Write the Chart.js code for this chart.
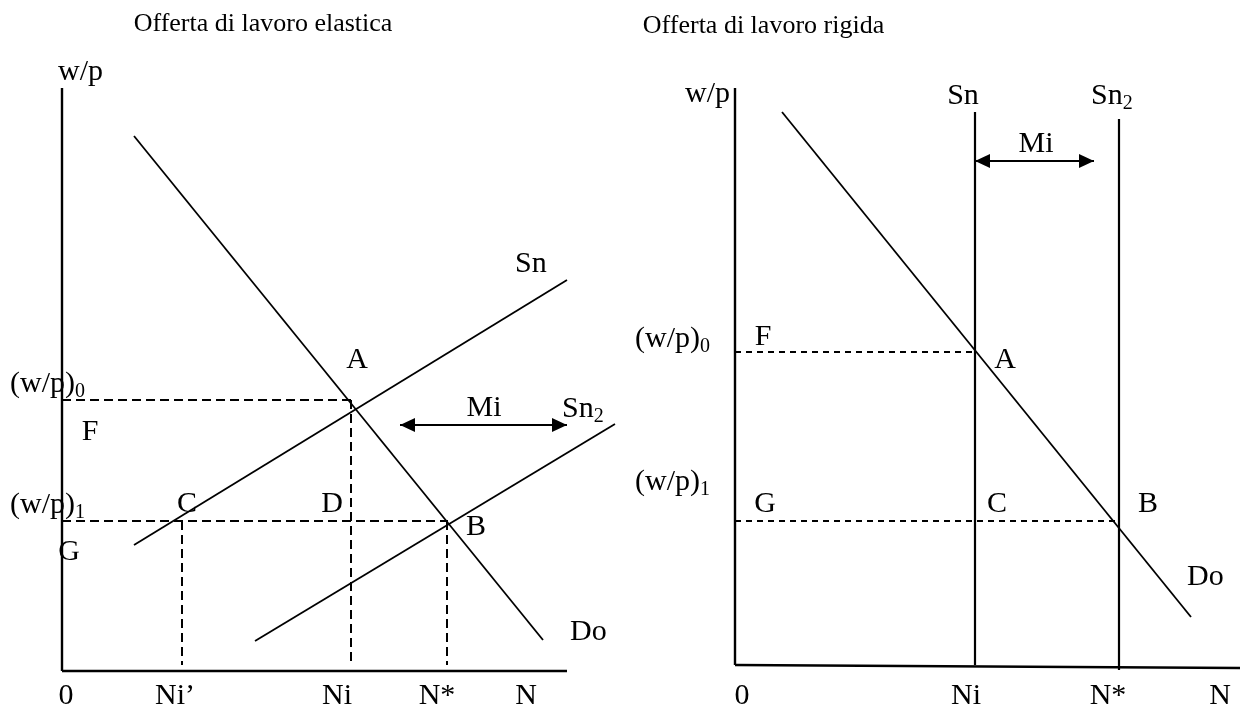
<!DOCTYPE html>
<html lang="it">
  <head>
    <meta charset="UTF-8" />
    <title>Offerta di lavoro elastica / rigida</title>
    <script src="https://cdn.jsdelivr.net/npm/chart.js"></script>
    <style>
      html, body { margin: 0; padding: 0; background: #fff; }
      canvas { display: block; }
    </style>
  </head>
  <body>
    <canvas id="chart" width="1248" height="708"></canvas>
    <script>
      // ---- left panel: elastic labour supply (x = N, y = w/p) ----
      const leftAxisY = [[0, 0], [0, 11.66]];
      const leftAxisX = [[0, 0], [10.1, 0]];
      const leftDo = [[1.44, 10.7], [9.62, 0.62]];
      const leftSn = [[1.44, 2.52], [10.1, 7.82]];
      const leftSn2 = [[3.86, 0.6], [11.06, 4.94]];
      const leftW0 = [[0, 5.42], [5.78, 5.42]];
      const leftNi = [[5.78, 5.42], [5.78, 0.2]];
      const leftW1 = [[0, 3.0], [7.72, 3.0]];
      const leftNiPrime = [[2.4, 3.0], [2.4, 0.12]];
      const leftNstar = [[7.7, 3.0], [7.7, 0.12]];
      const leftMi = [[6.76, 4.92], [10.1, 4.92]];

      // [text, x, y, align]  ("_" starts a subscript)
      const leftLabels = [
        ["w/p", -0.08, 11.82, "left"],
        ["(w/p)_0", -1.04, 5.58, "left"],
        ["F", 0.56, 4.62, "center"],
        ["A", 5.9, 6.06, "center"],
        ["(w/p)_1", -1.04, 3.16, "left"],
        ["C", 2.5, 3.18, "center"],
        ["D", 5.4, 3.18, "center"],
        ["G", 0.14, 2.22, "center"],
        ["B", 8.28, 2.72, "center"],
        ["Mi", 8.44, 5.1, "center"],
        ["Sn_2", 10.0, 5.08, "left"],
        ["Sn", 9.06, 7.98, "left"],
        ["Do", 10.16, 0.62, "left"],
        ["0", 0.08, -0.66, "center"],
        ["Ni’", 2.26, -0.66, "center"],
        ["Ni", 5.5, -0.66, "center"],
        ["N*", 7.5, -0.66, "center"],
        ["N", 9.28, -0.66, "center"],
      ];
      const leftTitle = ["Offerta di lavoro elastica", 4.02, 12.8];

      // ---- right panel: rigid labour supply ----
      const rightAxisY = [[0, 0], [0, 11.54]];
      const rightAxisX = [[0, 0], [10.1, -0.06]];
      const rightDo = [[0.94, 11.06], [9.12, 0.96]];
      const rightSn = [[4.8, 11.06], [4.8, 0]];
      const rightSn2 = [[7.68, 10.92], [7.68, -0.1]];
      const rightW0 = [[0, 6.26], [4.8, 6.26]];
      const rightW1 = [[0, 2.88], [7.68, 2.88]];
      const rightMi = [[4.8, 10.08], [7.18, 10.08]];

      const rightLabels = [
        ["w/p", -0.1, 11.26, "right"],
        ["(w/p)_0", -2.0, 6.36, "left"],
        ["F", 0.56, 6.4, "center"],
        ["A", 5.4, 5.94, "center"],
        ["(w/p)_1", -2.0, 3.5, "left"],
        ["G", 0.6, 3.06, "center"],
        ["C", 5.24, 3.06, "center"],
        ["B", 8.26, 3.06, "center"],
        ["Do", 9.04, 1.6, "left"],
        ["Sn", 4.56, 11.22, "center"],
        ["Sn_2", 7.12, 11.22, "left"],
        ["Mi", 6.02, 10.26, "center"],
        ["0", 0.14, -0.78, "center"],
        ["Ni", 4.62, -0.78, "center"],
        ["N*", 7.46, -0.78, "center"],
        ["N", 9.7, -0.78, "center"],
      ];
      const rightTitle = ["Offerta di lavoro rigida", 0.57, 12.64];

      const FONT = '"Liberation Serif", "Times New Roman", serif';

      function seg(points, side, opts = {}) {
        return Object.assign(
          {
            data: points.map(([x, y]) => ({ x, y })),
            xAxisID: side === "L" ? "xL" : "xR",
            yAxisID: side === "L" ? "yL" : "yR",
            showLine: true,
            borderColor: "#000",
            borderWidth: 1.8,
            pointRadius: 0,
            fill: false,
          },
          opts
        );
      }
      const dashedL = { borderDash: [9, 5], borderWidth: 2 };
      const dashedR = { borderDash: [6, 5], borderWidth: 2 };
      const axis = { borderWidth: 2.4 };

      const datasets = [
        seg(leftAxisY, "L", axis),
        seg(leftAxisX, "L", axis),
        seg(leftDo, "L"),
        seg(leftSn, "L"),
        seg(leftSn2, "L"),
        seg(leftW0, "L", dashedL),
        seg(leftNi, "L", dashedL),
        seg(leftW1, "L", dashedL),
        seg(leftNiPrime, "L", dashedL),
        seg(leftNstar, "L", dashedL),
        seg(leftMi, "L", { borderWidth: 2.2, arrowHeads: true }),
        seg(rightAxisY, "R", axis),
        seg(rightAxisX, "R", axis),
        seg(rightDo, "R"),
        seg(rightSn, "R", { borderWidth: 2.2 }),
        seg(rightSn2, "R", { borderWidth: 2.2 }),
        seg(rightW0, "R", dashedR),
        seg(rightW1, "R", dashedR),
        seg(rightMi, "R", { borderWidth: 2.2, arrowHeads: true }),
      ];

      function drawText(ctx, text, px, py, align, size) {
        const [main, sub] = text.split("_");
        const subSize = Math.round(size * 0.66);
        ctx.font = size + "px " + FONT;
        const wMain = ctx.measureText(main).width;
        let wSub = 0;
        if (sub) {
          ctx.font = subSize + "px " + FONT;
          wSub = ctx.measureText(sub).width;
        }
        const total = wMain + wSub;
        let x0 = px;
        if (align === "center") x0 = px - total / 2;
        if (align === "right") x0 = px - total;
        ctx.textAlign = "left";
        ctx.textBaseline = "alphabetic";
        ctx.font = size + "px " + FONT;
        ctx.fillText(main, x0, py);
        if (sub) {
          ctx.font = subSize + "px " + FONT;
          ctx.fillText(sub, x0 + wMain, py + 5);
        }
      }

      const annotations = {
        id: "annotations",
        afterDatasetsDraw(chart) {
          const ctx = chart.ctx;
          ctx.save();
          ctx.fillStyle = "#000";
          // arrow heads on both ends of the Mi segments
          chart.data.datasets.forEach((ds, i) => {
            if (!ds.arrowHeads) return;
            const pts = chart.getDatasetMeta(i).data;
            const a = pts[0], b = pts[pts.length - 1];
            [[a, b], [b, a]].forEach(([tip, from]) => {
              const ang = Math.atan2(tip.y - from.y, tip.x - from.x);
              const len = 15, half = 7;
              ctx.beginPath();
              ctx.moveTo(tip.x, tip.y);
              ctx.lineTo(tip.x - len * Math.cos(ang) - half * Math.sin(ang), tip.y - len * Math.sin(ang) + half * Math.cos(ang));
              ctx.lineTo(tip.x - len * Math.cos(ang) + half * Math.sin(ang), tip.y - len * Math.sin(ang) - half * Math.cos(ang));
              ctx.closePath();
              ctx.fill();
            });
          });
          const panels = [
            [leftLabels, leftTitle, "xL", "yL"],
            [rightLabels, rightTitle, "xR", "yR"],
          ];
          panels.forEach(([list, title, xs, ys]) => {
            const sx = chart.scales[xs], sy = chart.scales[ys];
            list.forEach(([t, x, y, align]) => {
              drawText(ctx, t, sx.getPixelForValue(x), sy.getPixelForValue(y), align, 30);
            });
            drawText(ctx, title[0], sx.getPixelForValue(title[1]), sy.getPixelForValue(title[2]), "center", 26);
          });
          ctx.restore();
        },
      };

      const hidden = (min, max) => ({ type: "linear", display: false, min, max });

      new Chart(document.getElementById("chart"), {
        type: "scatter",
        data: { datasets },
        options: {
          responsive: false,
          animation: false,
          events: [],
          layout: { padding: 0 },
          scales: {
            // 50 px per unit; left origin at (62, 671), right origin at (735, 665)
            xL: hidden(-1.24, 23.72),
            yL: hidden(-0.74, 13.42),
            xR: hidden(-14.7, 10.26),
            yR: hidden(-0.86, 13.3),
          },
          plugins: { legend: { display: false }, tooltip: { enabled: false } },
        },
        plugins: [annotations],
      });
    </script>
  </body>
</html>
